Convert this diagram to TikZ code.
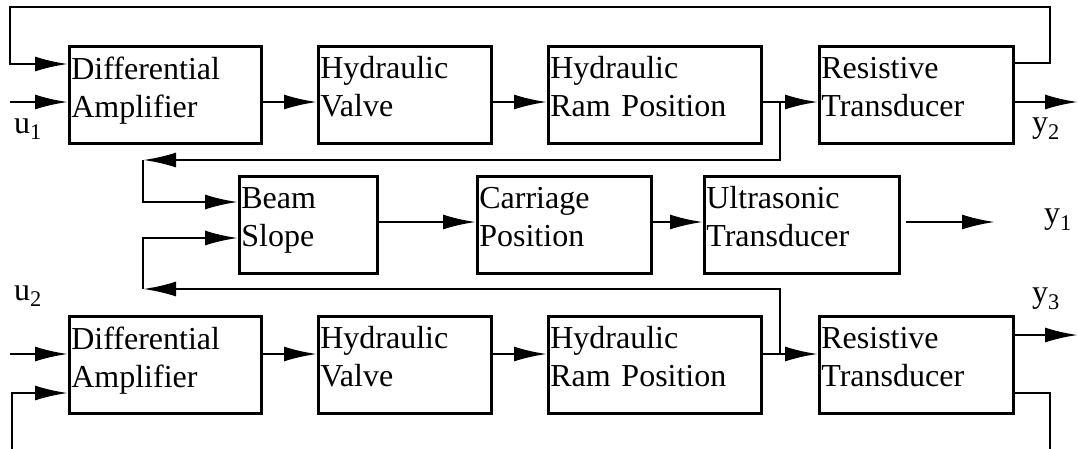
\documentclass[tikz,border=0pt]{standalone}
\usepackage{fontspec}
\setmainfont{Liberation Serif}
\usetikzlibrary{arrows.meta}
\begin{document}
\begin{tikzpicture}[x=1pt,y=-1pt,line width=2.7pt,
  blk/.style={draw, anchor=north west, minimum height=97pt, inner xsep=2pt,
    inner ysep=0pt, align=left, text depth=54pt, font=\fontsize{32}{38}\selectfont},
  arr/.style={-{Latex[length=33pt,width=15pt]}},
  lbl/.style={font=\fontsize{32}{38}\selectfont, inner sep=0pt}]
\useasboundingbox (0,0) rectangle (1078,448);
\clip (0,0) rectangle (1078,448);

% row heights used by the connectors
\coordinate (r1) at (0,102);
\coordinate (f1) at (0,64);
\coordinate (o1) at (0,63);
\coordinate (m)  at (0,222);
\coordinate (mu) at (0,202);
\coordinate (ml) at (0,238);
\coordinate (r3) at (0,354);
\coordinate (f3) at (0,393);
\coordinate (o3) at (0,335);

% first loop
\node[blk, text width=188pt] (da1) at (68,45)  {Differential\\Amplifier};
\node[blk, text width=169pt] (hv1) at (317,45) {Hydraulic\\Valve};
\node[blk, text width=209pt] (rp1) at (547,45) {Hydraulic\\Ram Position};
\node[blk, text width=190pt] (rt1) at (818,45) {Resistive\\Transducer};

% carriage chain
\node[blk, text width=134pt] (bs) at (238,175) {Beam\\Slope};
\node[blk, text width=170pt] (cp) at (476,175) {Carriage\\Position};
\node[blk, text width=191pt] (ut) at (703,175) {Ultrasonic\\Transducer};

% second loop
\node[blk, text width=188pt] (da3) at (68,315)  {Differential\\Amplifier};
\node[blk, text width=169pt] (hv3) at (317,315) {Hydraulic\\Valve};
\node[blk, text width=209pt] (rp3) at (547,315) {Hydraulic\\Ram Position};
\node[blk, text width=190pt] (rt3) at (818,315) {Resistive\\Transducer};

% signal ends and labels
\coordinate (u1in) at (10,102);
\coordinate (u2in) at (10,354);
\coordinate (y2out) at (1078,102);
\coordinate (y3out) at (1078,335);
\coordinate (y1out) at (995,222);
\coordinate (j1) at (780,102);
\coordinate (j3) at (780,354);
\node[lbl] (u1) at (28,129) {u\textsubscript{1}};
\node[lbl] (u2) at (28,296) {u\textsubscript{2}};
\node[lbl] (y2) at (1046,129) {y\textsubscript{2}};
\node[lbl] (y1) at (1058,220) {y\textsubscript{1}};
\node[lbl] (y3) at (1046,299) {y\textsubscript{3}};

% first loop connectors
\draw[arr] (u1in) -- (da1.west |- r1);
\draw[arr] (da1.east |- r1) -- (hv1.west |- r1);
\draw[arr] (hv1.east |- r1) -- (rp1.west |- r1);
\draw[arr] (rp1.east |- r1) -- (rt1.west |- r1);
\draw[arr] (rt1.east |- r1) -- (y2out);
\draw[arr] (rt1.east |- o1) -- (1050,63) -- (1050,7) -- (10,7) -- (10,64) -- (da1.west |- f1);

% ram positions feeding the beam slope
\draw[arr] (j1) -- (780,160) -- (143,160);
\draw[arr] (143,160) -- (143,202) -- (bs.west |- mu);
\draw[arr] (j3) -- (780,289) -- (143,289);
\draw[arr] (143,289) -- (143,238) -- (bs.west |- ml);

% carriage chain connectors
\draw[arr] (bs.east |- m) -- (cp.west |- m);
\draw[arr] (cp.east |- m) -- (ut.west |- m);
\draw[arr] ([xshift=5pt]ut.east |- m) -- (y1out);

% second loop connectors
\draw[arr] (u2in) -- (da3.west |- r3);
\draw[arr] (da3.east |- r3) -- (hv3.west |- r3);
\draw[arr] (hv3.east |- r3) -- (rp3.west |- r3);
\draw[arr] (rp3.east |- r3) -- (rt3.west |- r3);
\draw[arr] (rt3.east |- o3) -- (y3out);
\draw[arr] (rt3.east |- f3) -- (1050,393) -- (1050,470) -- (12,470) -- (12,393) -- (da3.west |- f3);
\end{tikzpicture}
\end{document}
